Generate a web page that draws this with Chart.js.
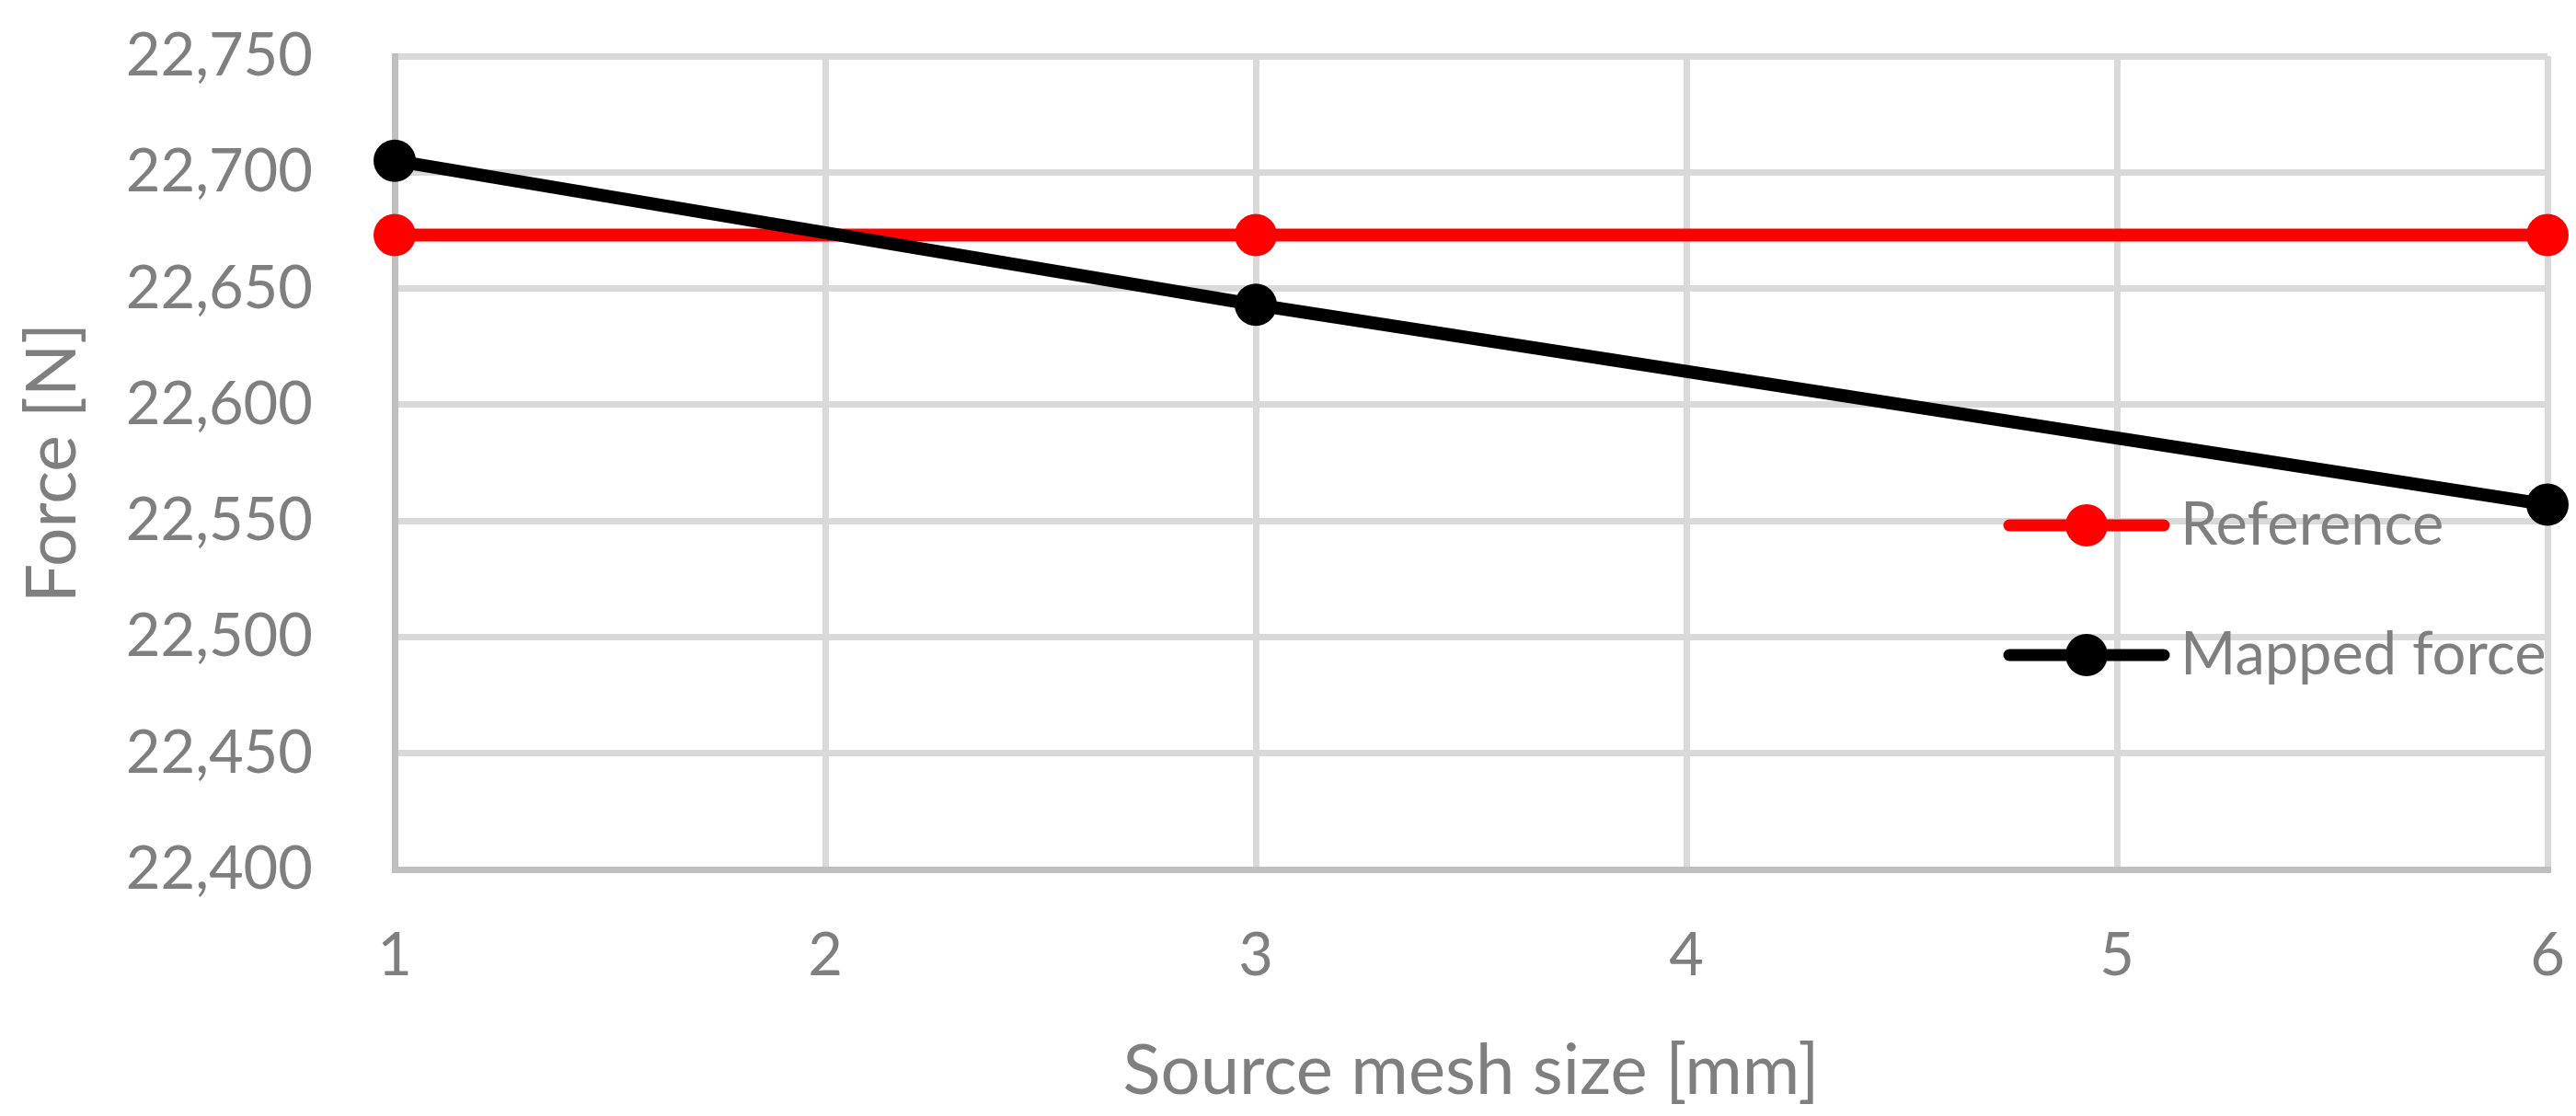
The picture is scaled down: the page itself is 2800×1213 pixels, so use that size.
<!DOCTYPE html>
<html>
<head>
<meta charset="utf-8">
<script src="https://cdn.jsdelivr.net/npm/chart.js@4.4.1/dist/chart.umd.min.js"></script>
<style>
  html, body { margin: 0; padding: 0; background: #fff; }
  canvas { display: block; }
</style>
</head>
<body>
<canvas id="lineChart" width="2800" height="1213"></canvas>
<script>
const meshSizes = [1, 3, 6]
const referenceForce = [22673, 22673, 22673]
const mappedForce = [22705, 22643, 22557]
const seriesNames = ["Reference", "Mapped force"]
const seriesColors = ["#ff0000", "#000000"]

const grey = "#7f7f7f"
const fontName = "Lato"

// leyenda dibujada dentro del area del grafico
const insideLegend = {
  id: "insideLegend",
  afterDraw(chart) {
    const ctx = chart.ctx
    const sets = [chart.data.datasets[0], chart.data.datasets[1]]
    ctx.save()
    sets.forEach((ds, i) => {
      const y = 571 + i * 141
      ctx.strokeStyle = ds.borderColor
      ctx.lineWidth = 13
      ctx.lineCap = "round"
      ctx.beginPath()
      ctx.moveTo(2184, y)
      ctx.lineTo(2352, y)
      ctx.stroke()
      ctx.fillStyle = ds.borderColor
      ctx.beginPath()
      ctx.arc(2268, y, 23, 0, Math.PI * 2)
      ctx.fill()
      ctx.fillStyle = grey
      ctx.font = "65px " + fontName
      ctx.textAlign = "left"
      ctx.textBaseline = "middle"
      ctx.fillText(ds.label, 2370, y)
    })
    ctx.restore()
  }
}

function toPoints(values) {
  return meshSizes.map((x, i) => ({ x: x, y: values[i] }))
}

// quita el relleno extra que chart.js deja para las etiquetas
function noEdgePadding(scale) {
  scale.paddingTop = 0
  scale.paddingBottom = 0
  scale.paddingLeft = 0
  scale.paddingRight = 0
}

function makeChart() {
  const lChart = document.getElementById("lineChart").getContext("2d")
  const lineChart = new Chart(lChart, {
    type: "line",
    data: {
      datasets: [
        {
          label: seriesNames[0],
          data: toPoints(referenceForce),
          borderColor: seriesColors[0],
          backgroundColor: seriesColors[0],
          borderWidth: 14,
          pointRadius: 23,
          pointBorderWidth: 0,
          tension: 0,
          clip: false,
          order: 2,
        },
        {
          label: seriesNames[1],
          data: toPoints(mappedForce),
          borderColor: seriesColors[1],
          backgroundColor: seriesColors[1],
          borderWidth: 14,
          pointRadius: 23,
          pointBorderWidth: 0,
          tension: 0,
          clip: false,
          order: 1,
        },
      ],
    },
    options: {
      responsive: false,
      animation: false,
      events: [],
      layout: { autoPadding: false, padding: { left: 0, right: 31, top: 61, bottom: 0 } },
      plugins: {
        legend: { display: false },
        tooltip: { enabled: false },
      },
      scales: {
        x: {
          type: "linear",
          min: 1,
          max: 6,
          afterFit: (scale) => {
            scale.height = 268
            noEdgePadding(scale)
          },
          ticks: {
            stepSize: 1,
            color: grey,
            padding: 55,
            font: { family: fontName, size: 65 },
          },
          grid: { color: "#d9d9d9", lineWidth: 7, drawTicks: false },
          border: { color: "#bfbfbf", width: 7 },
          title: {
            display: true,
            text: "Source mesh size [mm]",
            color: grey,
            font: { family: fontName, size: 76 },
            padding: { top: 0, bottom: 3 },
          },
        },
        y: {
          min: 22400,
          max: 22750,
          afterFit: (scale) => {
            scale.width = 429
            noEdgePadding(scale)
          },
          ticks: {
            stepSize: 50,
            color: grey,
            padding: 89,
            font: { family: fontName, size: 65 },
          },
          grid: { color: "#d9d9d9", lineWidth: 7, drawTicks: false },
          border: { color: "#bfbfbf", width: 7 },
          title: {
            display: true,
            text: "Force [N]",
            color: grey,
            font: { family: fontName, size: 75 },
            padding: { top: 13, bottom: 0 },
          },
        },
      },
    },
    plugins: [insideLegend],
  })
}

document.fonts.load("65px " + fontName).then(makeChart, makeChart)
</script>
</body>
</html>
